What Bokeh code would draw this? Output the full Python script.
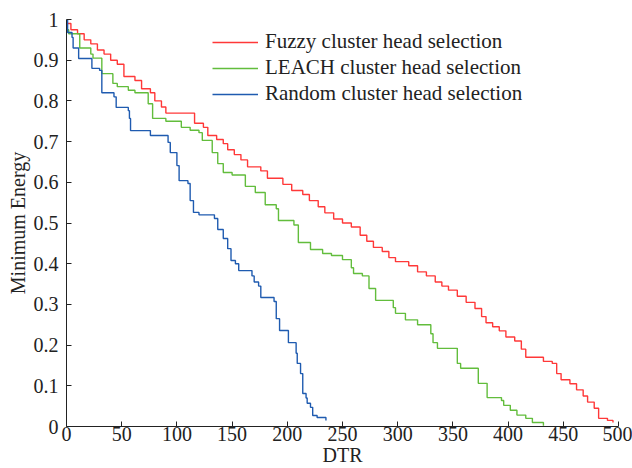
from bokeh.plotting import figure
from bokeh.embed import file_html
from bokeh.resources import INLINE
from bokeh.models import Legend, LegendItem, FixedTicker, Range1d

# Fuzzy cluster head selection (step start x, level)
fuzzy_x = [0, 4, 10, 16, 22, 28, 34, 40, 46, 52, 62, 68, 76, 80, 86, 90, 116, 124,
           128, 136, 142, 146, 152, 158, 164, 176, 182, 196, 204, 214, 220, 228, 234, 242, 250,
           258, 266, 272, 278, 286, 292, 298, 310, 318, 326, 334, 340, 346, 354, 362, 370, 376,
           380, 386, 392, 398, 406, 412, 416, 432, 440, 444, 448, 456, 462, 468, 472, 478, 482,
           490, 495]
fuzzy_y = [0.99, 0.975, 0.965, 0.95, 0.94, 0.925, 0.915, 0.90, 0.89, 0.86, 0.85, 0.83, 0.82,
           0.80, 0.785, 0.77, 0.745, 0.735, 0.715, 0.705, 0.695, 0.68, 0.668, 0.655,
           0.638, 0.628, 0.61, 0.595, 0.58, 0.57, 0.555, 0.54, 0.525, 0.51, 0.50, 0.49, 0.47,
           0.455, 0.44, 0.43, 0.415, 0.405, 0.395, 0.38, 0.37, 0.355, 0.345, 0.335, 0.32, 0.305,
           0.29, 0.27, 0.255, 0.245, 0.235, 0.22, 0.21, 0.19, 0.17, 0.16, 0.155, 0.13, 0.115,
           0.105, 0.09, 0.075, 0.06, 0.045, 0.02, 0.015, 0.01]

# LEACH cluster head selection
leach_x = [0, 2, 12, 22, 24, 32, 42, 46, 56, 62, 74, 78, 90, 104, 112, 120, 123, 132, 137, 142,
           150, 162, 171, 180, 190, 192, 206, 210, 221, 232, 240, 250, 258, 260, 268, 274, 280,
           296, 298, 307, 318, 330, 332, 336, 354, 357, 373, 381, 394, 396, 402, 408, 416, 422,
           432]
leach_y = [0.975, 0.965, 0.93, 0.915, 0.905, 0.867, 0.843, 0.835, 0.826, 0.82, 0.793, 0.757,
           0.75, 0.735, 0.728, 0.722, 0.703, 0.673, 0.646, 0.624, 0.618, 0.59, 0.575, 0.545,
           0.535, 0.506, 0.495, 0.452, 0.435, 0.425, 0.42, 0.41, 0.39, 0.376, 0.37, 0.339, 0.31,
           0.292, 0.278, 0.262, 0.25, 0.228, 0.206, 0.192, 0.155, 0.143, 0.106, 0.071, 0.064,
           0.052, 0.04, 0.028, 0.02, 0.01, 0.002]

# Random cluster head selection
random_x = [0, 1, 5, 6, 11, 23, 30, 32, 43, 45, 56, 57, 58, 76, 92, 94, 100, 102, 110, 112, 115,
            120, 134, 137, 142, 146, 149, 153, 156, 168, 170, 174, 176, 188, 190, 193, 201, 208,
            209, 212, 214, 217, 218, 221, 223, 227, 235]
random_y = [1.0, 0.968, 0.956, 0.93, 0.904, 0.88, 0.875, 0.82, 0.81, 0.784, 0.776, 0.757, 0.727,
            0.715, 0.698, 0.673, 0.641, 0.604, 0.597, 0.555, 0.526, 0.52, 0.511, 0.484, 0.462,
            0.437, 0.408, 0.40, 0.383, 0.37, 0.355, 0.345, 0.317, 0.307, 0.265, 0.236, 0.206,
            0.18, 0.155, 0.13, 0.081, 0.07, 0.057, 0.047, 0.027, 0.022, 0.015]

x_ticks = [0, 50, 100, 150, 200, 250, 300, 350, 400, 450, 500]
y_ticks = [0, 0.1, 0.2, 0.3, 0.4, 0.5, 0.6, 0.7, 0.8, 0.9, 1]

FONT = "Liberation Serif"

p = figure(width=632, height=468, output_backend="svg", toolbar_location=None,
           x_range=Range1d(0, 500), y_range=Range1d(0, 1),
           min_border_left=66, min_border_right=14, min_border_top=19, min_border_bottom=42)
p.outline_line_color = None
p.xgrid.visible = False
p.ygrid.visible = False

r1 = p.step(fuzzy_x, fuzzy_y, mode="after", line_color="#ff3838", line_width=1.4)
r2 = p.step(leach_x, leach_y, mode="after", line_color="#62bd3c", line_width=1.4)
r3 = p.step(random_x, random_y, mode="after", line_color="#1f5bb0", line_width=1.4)

for ax in (p.xaxis[0], p.yaxis[0]):
    ax.major_tick_in = 5
    ax.major_tick_out = 0
    ax.minor_tick_in = 0
    ax.minor_tick_out = 0
    ax.axis_line_color = "#222222"
    ax.major_tick_line_color = "#222222"
    ax.major_label_text_font = FONT
    ax.major_label_text_font_size = "20px"
    ax.major_label_text_color = "#222222"
    ax.axis_label_text_font = FONT
    ax.axis_label_text_font_size = "20px"
    ax.axis_label_text_font_style = "normal"
    ax.axis_label_text_color = "#222222"

p.xaxis[0].ticker = FixedTicker(ticks=x_ticks)
p.yaxis[0].ticker = FixedTicker(ticks=y_ticks)
p.yaxis[0].major_label_overrides = {0: "0", 1: "1"}
p.xaxis[0].axis_label = "DTR"
p.yaxis[0].axis_label = "Minimum Energy"
p.xaxis[0].major_label_standoff = 0
p.yaxis[0].major_label_standoff = 8
p.xaxis[0].axis_label_standoff = 0
p.yaxis[0].axis_label_standoff = 2

legend = Legend(items=[LegendItem(label="Fuzzy cluster head selection", renderers=[r1]),
                       LegendItem(label="LEACH cluster head selection", renderers=[r2]),
                       LegendItem(label="Random cluster head selection", renderers=[r3])],
                location=(146, 320), border_line_color=None, background_fill_alpha=0,
                padding=0, margin=0, spacing=1, label_height=24, glyph_height=24,
                glyph_width=46, label_standoff=7, label_text_font=FONT,
                label_text_font_size="21px", label_text_color="#222222")
p.add_layout(legend, "center")

open("out.html", "w").write(file_html(p, INLINE))
